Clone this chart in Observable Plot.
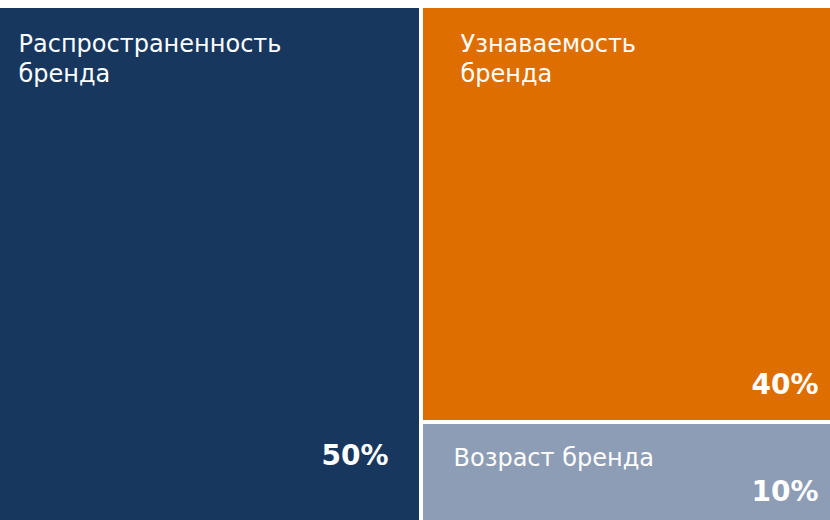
<!DOCTYPE html>
<html>
<head>
<meta charset="utf-8">
<script src="https://cdn.jsdelivr.net/npm/d3@7"></script>
<script src="https://cdn.jsdelivr.net/npm/@observablehq/plot@0.6"></script>
<style>
  html, body { margin: 0; padding: 0; background: #fff; }
  #chart svg { display: block; overflow: hidden; }
</style>
</head>
<body>
<div id="chart"></div>
<script>
const categories = ["Распространенность\nбренда", "Узнаваемость\nбренда", "Возраст бренда"];
const values = [50, 40, 10];
const shares = ["50%", "40%", "10%"];
const colors = ["#17375E", "#DF6E00", "#8D9DB5"];

// treemap area is slightly larger than the visible frame (cropped at right/bottom as in the reference)
const W = 846, H = 520;
const root = d3.hierarchy({children: categories.map((c, i) => ({name: c, value: values[i], share: shares[i], color: colors[i]}))})
  .sum(d => d.value || 0);
d3.treemap().tile(d3.treemapBinary).size([W, H])(root);
const cells = root.leaves().map(n => ({...n.data, x0: n.x0, x1: n.x1, y0: n.y0, y1: n.y1}));

const font = "DejaVu Sans, Verdana, sans-serif";
const byName = i => cells.filter(d => d.name === categories[i]);

const chart = Plot.plot({
  width: 830,
  height: 520,
  marginTop: 6,
  marginRight: 0,
  marginBottom: 0,
  marginLeft: 0,
  x: {domain: [2, 832], axis: null},
  y: {domain: [0, 514], axis: null, reverse: true},
  style: {fontFamily: font, background: "#fff"},
  marks: [
    Plot.rect(cells, {x1: "x0", x2: "x1", y1: "y0", y2: "y1", fill: "color", inset: 2, clip: true}),
    Plot.text(byName(0), {x: "x0", y: "y0", text: "name", textAnchor: "start", lineAnchor: "top", dx: 20, dy: 24, fill: "white", fontSize: 24, lineHeight: 1.25}),
    Plot.text(byName(1), {x: "x0", y: "y0", text: "name", textAnchor: "start", lineAnchor: "top", dx: 39, dy: 24, fill: "white", fontSize: 24, lineHeight: 1.25}),
    Plot.text(byName(2), {x: "x0", y: "y0", text: "name", textAnchor: "start", lineAnchor: "top", dx: 32, dy: 22, fill: "white", fontSize: 24, lineHeight: 1.25}),
    Plot.text(byName(0), {x: "x1", y: "y1", text: "share", textAnchor: "end", lineAnchor: "bottom", dx: -33, dy: -62, fill: "white", fontSize: 28, fontWeight: "bold"}),
    Plot.text(byName(1), {x: "x1", y: "y1", text: "share", textAnchor: "end", lineAnchor: "bottom", dx: -26, dy: -29, fill: "white", fontSize: 28, fontWeight: "bold"}),
    Plot.text(byName(2), {x: "x1", y: "y1", text: "share", textAnchor: "end", lineAnchor: "bottom", dx: -26, dy: -26, fill: "white", fontSize: 28, fontWeight: "bold"})
  ]
});
document.getElementById("chart").append(chart);
</script>
</body>
</html>
